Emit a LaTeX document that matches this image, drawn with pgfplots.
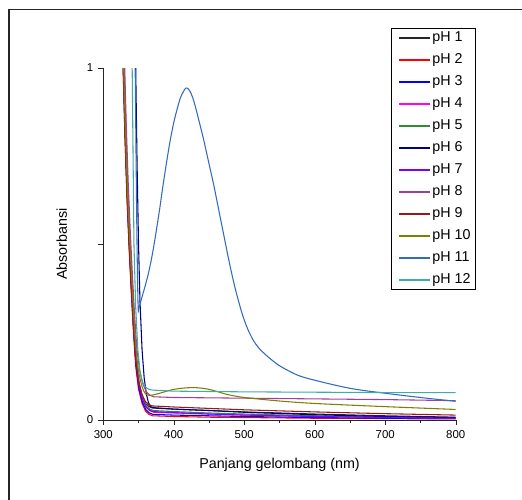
\documentclass[border=0pt]{standalone}
\usepackage{pgfplots}
\pgfplotsset{compat=1.18}
\usepackage{fontspec}
\setmainfont{Liberation Sans}

\definecolor{phA}{rgb}{0.15,0.15,0.15}
\definecolor{phB}{rgb}{1,0,0}
\definecolor{phC}{rgb}{0,0,1}
\definecolor{phD}{rgb}{1,0,1}
\definecolor{phE}{rgb}{0.2,0.55,0.2}
\definecolor{phF}{rgb}{0,0,0.5}
\definecolor{phG}{rgb}{0.5,0,1}
\definecolor{phH}{rgb}{0.62,0.25,0.62}
\definecolor{phI}{rgb}{0.6,0.1,0.1}
\definecolor{phJ}{rgb}{0.5,0.5,0}
\definecolor{phK}{rgb}{0.2,0.42,0.75}
\definecolor{phL}{rgb}{0.25,0.67,0.67}

\begin{document}
\begin{tikzpicture}
\useasboundingbox (0,0) rectangle (365.4pt,349.3pt);
% outer frame, cut by the page on the right and at the bottom
\draw[line width=1.2pt,black!85] (6.3pt,-20pt) -- (6.3pt,342.6pt) -- (400pt,342.6pt);
\begin{axis}[
  at={(72.3pt,55.3pt)}, anchor=south west,
  scale only axis, width=246.7pt, height=246.4pt,
  xmin=300, xmax=800, ymin=0, ymax=1,
  axis x line*=bottom, axis y line*=left,
  axis line style={-, black!85},
  tick align=outside,
  major tick length=3.5pt, minor tick length=2pt,
  tick style={black!85},
  xtick={300,400,500,600,700,800}, minor x tick num=1,
  ytick={0,0.5,1}, yticklabels={0,,1},
  ticklabel style={font=\fontsize{8}{9}\selectfont},
  /pgf/number format/assume math mode=true,
  xlabel={Panjang gelombang (nm)},
  ylabel={Absorbansi},
  every axis x label/.style={at={(axis description cs:0.5,-0.128)}, anchor=center},
  every axis y label/.style={at={(axis description cs:-0.118,0.5)}, anchor=center, rotate=90},
  every axis plot/.append style={line width=0.75pt},
  legend image code/.code={\path (0cm,0cm); \draw[#1, line width=1.05pt] (0.12cm,0cm) -- (0.88cm,0cm);},
  legend style={at={(rel axis cs:0.816,1.114)}, anchor=north west,
    draw=black, font=\fontsize{10}{12}\selectfont, cells={anchor=west},
    row sep=3.7pt, inner xsep=2pt, inner ysep=1pt,
    nodes={inner sep=1pt, text height=7.5pt, text depth=2.2pt}},
]
\addplot[phA] coordinates {(325,1.284)(328,1.034)(331,0.814)(334,0.634)(337,0.494)(340,0.374)(343,0.264)(346,0.174)(350,0.109)(355,0.069)(360,0.047)(365,0.038)(370,0.034)(400,0.031)(450,0.027)(500,0.023)(600,0.017)(700,0.012)(800,0.008)};
\addlegendentry{pH 1}
\addplot[phB] coordinates {(325,1.262)(328,1.012)(331,0.792)(334,0.612)(337,0.472)(340,0.352)(343,0.242)(346,0.152)(350,0.087)(355,0.047)(360,0.025)(365,0.016)(370,0.012)(400,0.010)(450,0.008)(500,0.007)(600,0.005)(700,0.004)(800,0.003)};
\addlegendentry{pH 2}
\addplot[phC] coordinates {(325.5,1.266)(328.5,1.016)(331.5,0.796)(334.5,0.616)(337.5,0.476)(340.5,0.356)(343.5,0.246)(346.5,0.156)(350.5,0.091)(355.5,0.051)(360.5,0.029)(365.5,0.020)(370.5,0.016)(400,0.014)(450,0.012)(500,0.010)(600,0.007)(700,0.005)(800,0.004)};
\addlegendentry{pH 3}
\addplot[phD] coordinates {(326.5,1.272)(329.5,1.022)(332.5,0.802)(335.5,0.622)(338.5,0.482)(341.5,0.362)(344.5,0.252)(347.5,0.162)(351.5,0.097)(356.5,0.057)(361.5,0.035)(366.5,0.026)(371.5,0.022)(400,0.020)(450,0.017)(500,0.014)(600,0.010)(700,0.008)(800,0.006)};
\addlegendentry{pH 4}
\addplot[phE] coordinates {(326,1.277)(329,1.027)(332,0.807)(335,0.627)(338,0.487)(341,0.367)(344,0.257)(347,0.167)(351,0.102)(356,0.062)(361,0.040)(366,0.031)(371,0.027)(400,0.024)(450,0.020)(500,0.017)(600,0.012)(700,0.008)(800,0.005)};
\addlegendentry{pH 5}
\addplot[phF] coordinates {(343,1.3)(346,1.0)(348,0.72)(350,0.5)(352,0.34)(355,0.2)(358,0.12)(361,0.075)(364,0.05)(367,0.038)(372,0.035)(400,0.031)(450,0.027)(500,0.022)(600,0.015)(700,0.010)(800,0.007)};
\addlegendentry{pH 6}
\addplot[phG] coordinates {(325.5,1.274)(328.5,1.024)(331.5,0.804)(334.5,0.624)(337.5,0.484)(340.5,0.364)(343.5,0.254)(346.5,0.164)(350.5,0.099)(355.5,0.059)(360.5,0.037)(365.5,0.028)(370.5,0.024)(400,0.021)(450,0.017)(500,0.014)(600,0.010)(700,0.007)(800,0.005)};
\addlegendentry{pH 7}
\addplot[phH] coordinates {(326.5,1.316)(329.5,1.066)(332.5,0.846)(335.5,0.666)(338.5,0.526)(341.5,0.406)(344.5,0.296)(347.5,0.206)(351.5,0.141)(356.5,0.101)(361.5,0.079)(366.5,0.070)(371.5,0.066)(400,0.064)(450,0.063)(500,0.062)(600,0.060)(700,0.058)(800,0.055)};
\addlegendentry{pH 8}
\addplot[phI] coordinates {(324.5,1.29)(327.5,1.04)(330.5,0.82)(333.5,0.64)(336.5,0.50)(339.5,0.38)(342.5,0.27)(345.5,0.18)(349.5,0.115)(354.5,0.075)(359.5,0.053)(364.5,0.044)(369.5,0.040)(400,0.037)(450,0.033)(500,0.029)(600,0.023)(700,0.018)(800,0.014)};
\addlegendentry{pH 9}
\addplot[phJ, smooth, tension=0.5] coordinates {(325,1.32)(328,1.07)(331,0.85)(334,0.67)(337,0.53)(340,0.41)(343,0.30)(346,0.21)(350,0.14)(355,0.095)(360,0.074)(365,0.070)(370,0.071)(380,0.076)(390,0.082)(400,0.087)(415,0.091)(430,0.092)(445,0.089)(460,0.082)(475,0.073)(500,0.064)(550,0.054)(600,0.047)(700,0.038)(800,0.030)};
\addlegendentry{pH 10}
\addplot[phK, smooth, tension=0.5] coordinates {(343,1.4)(345,1.05)(346.5,0.75)(348,0.48)(349.5,0.318)(351,0.322)(355,0.35)(360,0.385)(365,0.425)(370,0.475)(375,0.535)(380,0.60)(385,0.67)(390,0.735)(395,0.795)(400,0.845)(405,0.885)(410,0.918)(417,0.943)(422,0.937)(427,0.915)(432,0.88)(437,0.84)(442,0.80)(447,0.755)(452,0.71)(457,0.665)(462,0.615)(467,0.565)(472,0.515)(477,0.465)(482,0.418)(487,0.375)(492,0.337)(497,0.302)(502,0.273)(507,0.249)(513,0.226)(520,0.206)(530,0.186)(540,0.169)(551,0.153)(575,0.128)(600,0.113)(650,0.09)(700,0.076)(750,0.064)(800,0.053)};
\addlegendentry{pH 11}
\addplot[phL] coordinates {(339,1.3)(341,1.0)(343.5,0.5)(346,0.32)(349,0.2)(352,0.14)(355,0.11)(360,0.093)(365,0.087)(370,0.085)(400,0.082)(500,0.080)(600,0.079)(700,0.078)(800,0.078)};
\addlegendentry{pH 12}
\end{axis}
\end{tikzpicture}
\end{document}
